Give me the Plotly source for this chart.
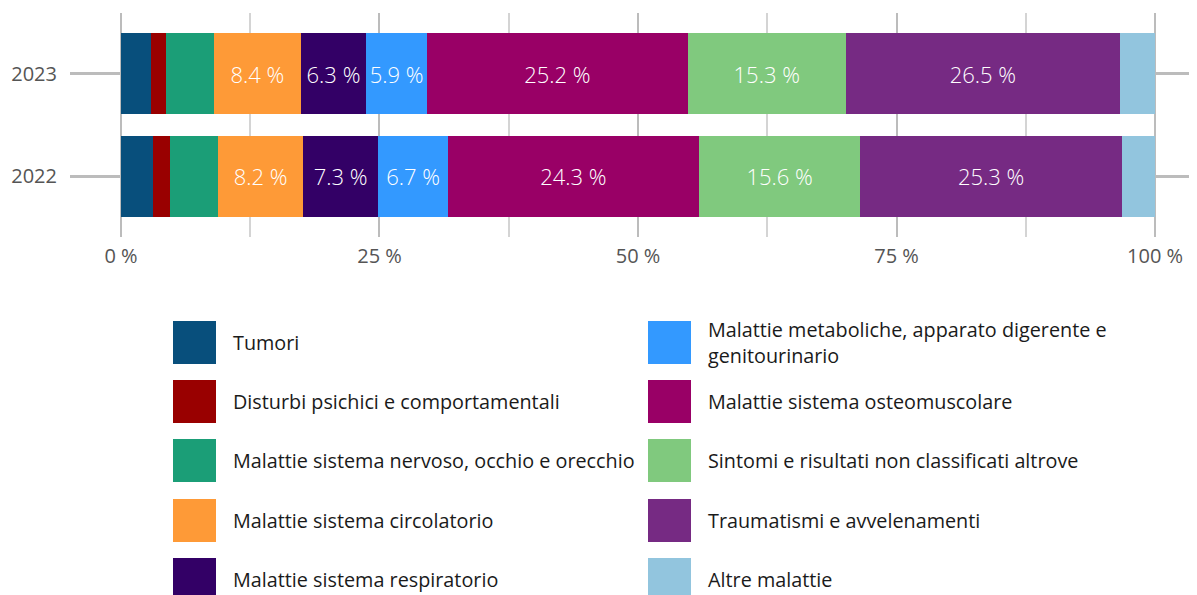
import plotly.graph_objects as go

years = ["2022", "2023"]
categories = [
    "Tumori",
    "Disturbi psichici e comportamentali",
    "Malattie sistema nervoso, occhio e orecchio",
    "Malattie sistema circolatorio",
    "Malattie sistema respiratorio",
    "Malattie metaboliche, apparato digerente e<br>genitourinario",
    "Malattie sistema osteomuscolare",
    "Sintomi e risultati non classificati altrove",
    "Traumatismi e avvelenamenti",
    "Altre malattie",
]
# values per category: [2022, 2023]
values = [
    [3.1, 2.9],
    [1.6, 1.5],
    [4.7, 4.6],
    [8.2, 8.4],
    [7.3, 6.3],
    [6.7, 5.9],
    [24.3, 25.2],
    [15.6, 15.3],
    [25.3, 26.5],
    [3.2, 3.4],
]
show_label = [False, False, False, True, True, True, True, True, True, False]
colors = ["#084f7c", "#990000", "#1b9e77", "#fe9a37", "#330066",
          "#3399ff", "#990066", "#80c97e", "#762a83", "#92c5de"]
xtick_vals = [0, 25, 50, 75, 100]
xtick_text = ["0 %", "25 %", "50 %", "75 %", "100 %"]
minor_vals = [12.5, 37.5, 62.5, 87.5]

FONT = "Open Sans"
OFF = 8                 # page body margin in the browser
W, H = 1197 - OFF, 595 - OFF


def px(x):
    return (x - OFF) / W


def py(y):
    return 1 - (y - OFF) / H


fig = go.Figure()
for cat, vals, lab, col in zip(categories, values, show_label, colors):
    fig.add_trace(go.Bar(
        y=years, x=vals, orientation="h", name=cat,
        marker=dict(color=col, line=dict(width=0)),
        text=[f"{v:.1f} %" if lab else "" for v in vals],
        textposition="inside", insidetextanchor="middle",
        textfont=dict(color="white", size=22, family=FONT, weight=300),
        showlegend=False,
    ))

fig.update_layout(
    width=W, height=H,
    margin=dict(l=0, r=0, t=0, b=0),
    barmode="stack", bargap=0.205,
    plot_bgcolor="white", paper_bgcolor="white",
    font=dict(family=FONT, color="#555555", size=20),
    xaxis=dict(
        domain=[px(70), 1.0],
        range=[-4.93, 104.06],
        tickvals=xtick_vals, ticktext=xtick_text,
        showgrid=True, gridcolor="#bcbcbc", gridwidth=2,
        minor=dict(tickvals=minor_vals, showgrid=True, gridcolor="#d4d4d4", gridwidth=1.5),
        zeroline=False, showline=False, ticks="",
        ticklabelstandoff=5,
        tickfont=dict(size=20, color="#555555", family=FONT),
        fixedrange=True,
    ),
    yaxis=dict(
        domain=[py(237), py(13)],
        categoryorder="array", categoryarray=years,
        range=[-0.59, 1.59],
        showgrid=True, gridcolor="#bcbcbc", gridwidth=2.5,
        zeroline=False, showline=False, ticks="",
        ticklabelstandoff=12,
        tickfont=dict(size=20, color="#555555", family=FONT),
        fixedrange=True,
    ),
)

# custom legend with large square swatches, two columns (screen pixel positions)
col_x = [173, 648]
row_y = [342.5, 401.5, 460.5, 520.5, 579.5]
sq = 43
for i, (cat, col) in enumerate(zip(categories, colors)):
    c, r = divmod(i, 5)
    x0 = col_x[c]
    yc = row_y[r]
    fig.add_shape(type="rect", xref="paper", yref="paper",
                  x0=px(x0), x1=px(x0 + sq),
                  y0=py(yc + sq / 2), y1=py(yc - sq / 2),
                  fillcolor=col, line=dict(width=0))
    fig.add_annotation(xref="paper", yref="paper",
                       x=px(x0 + 58), y=py(yc),
                       xanchor="left", yanchor="middle", align="left",
                       text=cat, showarrow=False,
                       font=dict(size=19.8, color="#1a1a1a", family=FONT))

fig.write_html("out.html")
